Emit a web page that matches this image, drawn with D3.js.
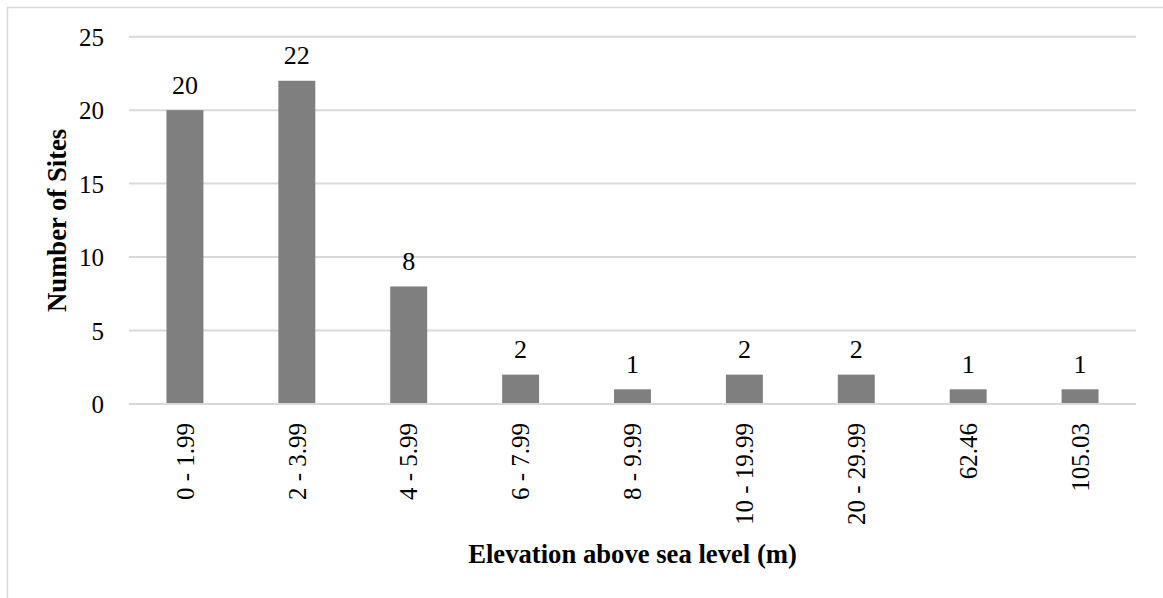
<!DOCTYPE html>
<html>
<head>
<meta charset="utf-8">
<script src="https://cdn.jsdelivr.net/npm/d3@7"></script>
<style>
  html, body { margin: 0; padding: 0; background: #fff; }
  svg { display: block; }
  text { font-family: "Liberation Serif", "Times New Roman", serif; fill: #000; }
</style>
</head>
<body>
<svg id="chart" width="1163" height="598"></svg>
<script>
const categories = ["0 - 1.99", "2 - 3.99", "4 - 5.99", "6 - 7.99", "8 - 9.99", "10 - 19.99", "20 - 29.99", "62.46", "105.03"];
const siteCounts = [20, 22, 8, 2, 1, 2, 2, 1, 1];
const yTicks = [0, 5, 10, 15, 20, 25];
const xTitle = "Elevation above sea level (m)";
const yTitle = "Number of Sites";

const W = 1163, H = 598;
const plot = { left: 129, right: 1136, top: 36.7, bottom: 404 };
const svg = d3.select("#chart");

// outer frame (cut off at right and bottom)
svg.append("rect")
  .attr("x", 7.5).attr("y", 7.5)
  .attr("width", 1300).attr("height", 800)
  .attr("fill", "none").attr("stroke", "#d9d9d9").attr("stroke-width", 1.5);

const x = d3.scaleBand()
  .domain(categories)
  .range([plot.left, plot.right])
  .paddingInner(0.67)
  .paddingOuter(0.335);

const y = d3.scaleLinear().domain([0, 25]).range([plot.bottom, plot.top]);

// gridlines
svg.append("g")
  .selectAll("line")
  .data(yTicks)
  .join("line")
  .attr("x1", plot.left).attr("x2", plot.right)
  .attr("y1", d => y(d)).attr("y2", d => y(d))
  .attr("stroke", "#d9d9d9").attr("stroke-width", 2);

// y axis labels
const yAxis = d3.axisLeft(y).tickValues(yTicks).tickSize(0).tickPadding(25).tickFormat(d3.format("d"));
const gy = svg.append("g").attr("transform", `translate(${plot.left},0)`).call(yAxis);
gy.select(".domain").remove();
gy.selectAll("text")
  .attr("font-size", 25)
  .attr("font-family", "Liberation Serif, Times New Roman, serif")
  .attr("fill", "#000")
  .attr("dy", "0.35em");

// bars
svg.append("g")
  .selectAll("rect")
  .data(categories)
  .join("rect")
  .attr("x", d => x(d))
  .attr("width", x.bandwidth())
  .attr("y", (d, i) => y(siteCounts[i]))
  .attr("height", (d, i) => y(0) - y(siteCounts[i]))
  .attr("fill", "#7f7f7f");

// baseline axis
svg.append("line")
  .attr("x1", plot.left).attr("x2", plot.right)
  .attr("y1", y(0)).attr("y2", y(0))
  .attr("stroke", "#d9d9d9").attr("stroke-width", 2);

// data labels
svg.append("g")
  .selectAll("text")
  .data(categories)
  .join("text")
  .attr("x", d => x(d) + x.bandwidth() / 2)
  .attr("y", (d, i) => y(siteCounts[i]) - 16.5)
  .attr("text-anchor", "middle")
  .attr("font-size", 26)
  .text((d, i) => siteCounts[i]);

// x axis labels (rotated)
const xAxis = d3.axisBottom(x).tickSize(0).tickPadding(0);
const gx = svg.append("g").attr("transform", `translate(0,${plot.bottom})`).call(xAxis);
gx.select(".domain").remove();
gx.selectAll("text")
  .attr("font-size", 25)
  .attr("font-family", "Liberation Serif, Times New Roman, serif")
  .attr("fill", "#000")
  .attr("text-anchor", "end")
  .attr("transform", "rotate(-90)")
  .attr("x", -19)
  .attr("y", 0)
  .attr("dy", "0.35em");

// axis titles
svg.append("text")
  .attr("x", (plot.left + plot.right) / 2)
  .attr("y", 563)
  .attr("text-anchor", "middle")
  .attr("font-size", 26.67)
  .attr("font-weight", "bold")
  .text(xTitle);

svg.append("text")
  .attr("transform", `translate(66,${(plot.top + plot.bottom) / 2}) rotate(-90)`)
  .attr("text-anchor", "middle")
  .attr("font-size", 26.67)
  .attr("font-weight", "bold")
  .text(yTitle);
</script>
</body>
</html>
